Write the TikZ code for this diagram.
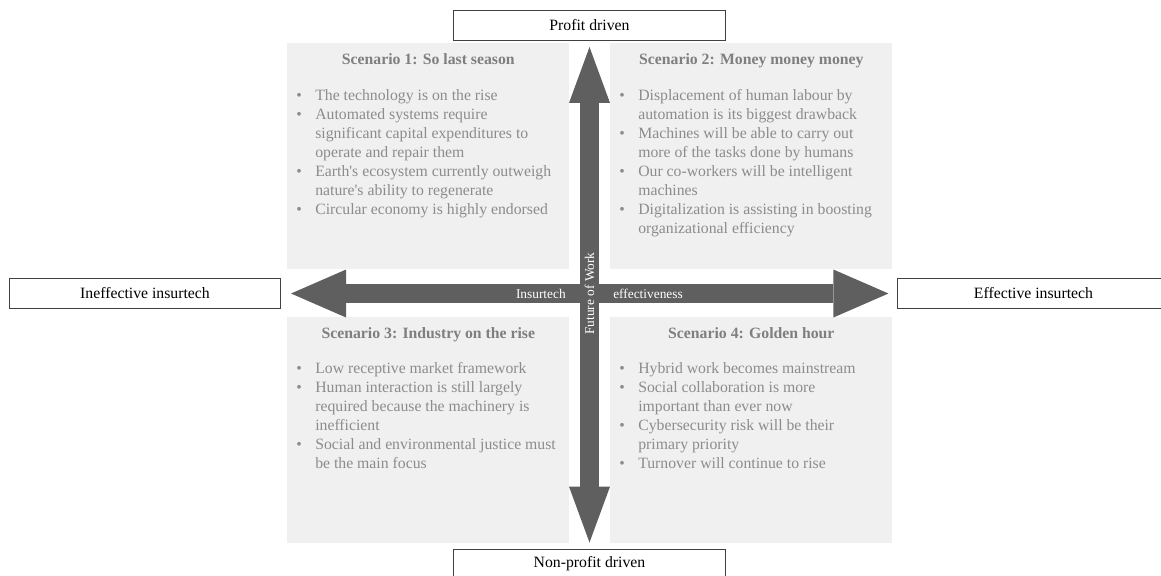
\documentclass[tikz,border=0pt]{standalone}
\usepackage{fontspec}
\setmainfont{Liberation Serif}
\usepackage{xcolor}
\definecolor{axisGray}{HTML}{5F5F5F}
\definecolor{boxLine}{HTML}{404040}
\definecolor{quadBg}{HTML}{F0F0F0}
\definecolor{titleGray}{HTML}{7F7F7F}
\definecolor{listGray}{HTML}{8C8C8C}
\usepackage{tikz}
\usetikzlibrary{positioning,calc,arrows.meta}
\tikzset{%
  axisBox/.style={%
    rectangle,
    draw=boxLine,
    line width=0.7pt,
    fill=white,
    minimum width=192.8pt,
    minimum height=21.3pt,
    inner sep=0pt,
    font=\fontsize{11.2}{13.5}\selectfont
  },
  quadrant/.style={%
    rectangle,
    fill=quadBg,
    anchor=north west,
    inner sep=0pt,
    minimum width=200.6pt,
    minimum height=160.4pt
  },
  scenarioTitle/.style={%
    anchor=base,
    inner sep=0pt,
    text=titleGray,
    font=\fontsize{11.2}{13.5}\selectfont\bfseries
  },
  scenarioList/.style={%
    anchor=north west,
    align=left,
    inner sep=0pt,
    text=listGray,
    font=\fontsize{11.2}{13.5}\selectfont
  },
  axisArrow/.style={%
    line width=13pt,
    color=axisGray
  },
  axisLabel/.style={%
    inner sep=0pt,
    text=white,
    font=\fontsize{9.5}{11}\selectfont
  }
}
\newcommand{\bul}{\makebox[13.5pt][l]{\textbullet}}
\newcommand{\ind}{\hspace*{13.5pt}}

\begin{document}
\begin{tikzpicture}[x=0.025cm,y=-0.025cm]
            \useasboundingbox (0,0) rectangle (1161,575);

            % quadrants
            \node[quadrant] (q1) at (287,43) {};
            \node[quadrant] (q2) at (610,43) {};
            \node[quadrant] (q3) at (287,317) {};
            \node[quadrant] (q4) at (610,317) {};

            \node[scenarioTitle] (t1) at ($(q1.north)+(0,21)$) {Scenario 1: So last season};
            \node[scenarioTitle] (t2) at ($(q2.north)+(0,21)$) {Scenario 2: Money money money};
            \node[scenarioTitle] (t3) at ($(q3.north)+(0,21)$) {Scenario 3: Industry on the rise};
            \node[scenarioTitle] (t4) at ($(q4.north)+(0,21)$) {Scenario 4: Golden hour};

            \node[scenarioList] (l1) at ($(q1.north west)+(9,46)$) {%
              \bul The technology is on the rise\\
              \bul Automated systems require\\
              \ind significant capital expenditures to\\
              \ind operate and repair them\\
              \bul Earth\textquotesingle s ecosystem currently outweigh\\
              \ind nature\textquotesingle s ability to regenerate\\
              \bul Circular economy is highly endorsed};
            \node[scenarioList] (l2) at ($(q2.north west)+(9,46)$) {%
              \bul Displacement of human labour by\\
              \ind automation is its biggest drawback\\
              \bul Machines will be able to carry out\\
              \ind more of the tasks done by humans\\
              \bul Our co-workers will be intelligent\\
              \ind machines\\
              \bul Digitalization is assisting in boosting\\
              \ind organizational efficiency};
            \node[scenarioList] (l3) at ($(q3.north west)+(9,45)$) {%
              \bul Low receptive market framework\\
              \bul Human interaction is still largely\\
              \ind required because the machinery is\\
              \ind inefficient\\
              \bul Social and environmental justice must\\
              \ind be the main focus};
            \node[scenarioList] (l4) at ($(q4.north west)+(9,45)$) {%
              \bul Hybrid work becomes mainstream\\
              \bul Social collaboration is more\\
              \ind important than ever now\\
              \bul Cybersecurity risk will be their\\
              \ind primary priority\\
              \bul Turnover will continue to rise};

            % axis end boxes
            \node[axisBox] (profit) at (589.5,25.5) {Profit driven};
            \node[axisBox] (nonprofit) at (589.5,564) {Non-profit driven};
            \node[axisBox] (ineff) at (145,293.5) {Ineffective insurtech};
            \node[axisBox] (eff) at (1033.5,293.5) {Effective insurtech};

            % axes
            \draw[axisArrow, {Triangle[length=39.1pt,width=34.1pt,line width=0pt]}-{Triangle[length=39.1pt,width=34.1pt,line width=0pt]},
              shorten <=7.1pt, shorten >=6.4pt] (ineff) -- (eff);
            \coordinate (cross) at (589.5,293.5);
            \node[axisLabel, anchor=east] (lblIns) at ($(cross)+(-23.5,0)$) {Insurtech};
            \node[axisLabel, anchor=west] (lblEff) at ($(cross)+(23.5,0)$) {effectiveness};
            \draw[axisArrow, {Triangle[length=39.8pt,width=29.2pt,line width=0pt]}-{Triangle[length=39.8pt,width=29.2pt,line width=0pt]},
              shorten <=4.3pt, shorten >=4.3pt] (profit) -- (nonprofit);
            \node[axisLabel, rotate=90] (lblWork) at (cross) {Future of Work};
        \end{tikzpicture}
\end{document}
